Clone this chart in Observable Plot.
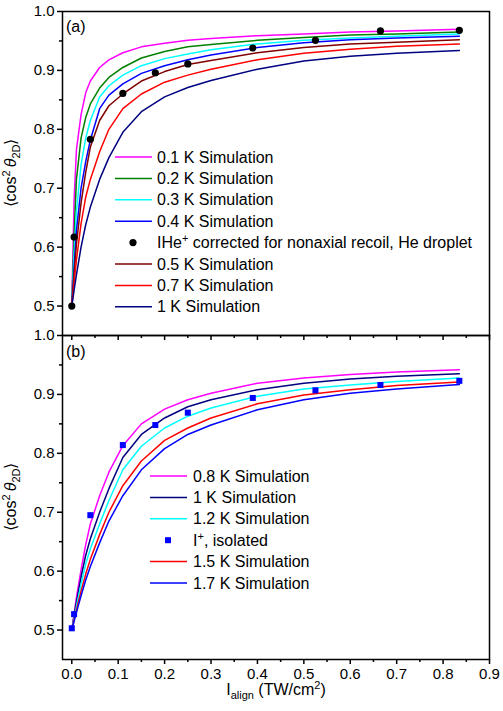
<!DOCTYPE html>
<html><head><meta charset="utf-8">
<script src="https://cdn.jsdelivr.net/npm/d3@7"></script>
<script src="https://cdn.jsdelivr.net/npm/@observablehq/plot@0.6"></script>
<style>
body{margin:0;background:#fff;}
svg{display:block}
#panelB{margin-top:-16px;}
</style></head><body><div id="panelA"></div><div id="panelB"></div>
<script>
// ---- data ----
const xGrid = [0, 0.005, 0.01, 0.02, 0.03, 0.04, 0.06, 0.08, 0.11, 0.15, 0.2, 0.25, 0.3, 0.4, 0.5, 0.6, 0.7, 0.835];
// panel (a) simulations
const simA01 = [0.5, 0.68, 0.765, 0.825, 0.862, 0.882, 0.905, 0.918, 0.930, 0.940, 0.946, 0.951, 0.954, 0.959, 0.962, 0.965, 0.967, 0.970];
const simA02 = [0.5, 0.62, 0.715, 0.785, 0.820, 0.843, 0.870, 0.888, 0.905, 0.921, 0.932, 0.940, 0.944, 0.951, 0.956, 0.960, 0.962, 0.965];
const simA03 = [0.5, 0.59, 0.66, 0.74, 0.785, 0.815, 0.855, 0.874, 0.892, 0.908, 0.920, 0.928, 0.935, 0.945, 0.951, 0.955, 0.958, 0.962];
const simA04 = [0.5, 0.565, 0.628, 0.70, 0.745, 0.782, 0.835, 0.858, 0.877, 0.895, 0.908, 0.918, 0.926, 0.939, 0.947, 0.952, 0.955, 0.958];
const simA05 = [0.5, 0.555, 0.605, 0.675, 0.727, 0.770, 0.815, 0.840, 0.860, 0.882, 0.898, 0.910, 0.917, 0.930, 0.939, 0.945, 0.948, 0.952];
const simA07 = [0.5, 0.54, 0.578, 0.640, 0.685, 0.715, 0.762, 0.800, 0.835, 0.860, 0.880, 0.892, 0.902, 0.918, 0.929, 0.936, 0.941, 0.945];
const simA10 = [0.5, 0.527, 0.553, 0.600, 0.638, 0.668, 0.715, 0.752, 0.795, 0.830, 0.855, 0.871, 0.883, 0.902, 0.916, 0.924, 0.929, 0.934];
// panel (b) simulations
const simB08 = [0.5, 0.528, 0.555, 0.602, 0.645, 0.68, 0.728, 0.768, 0.813, 0.850, 0.875, 0.891, 0.902, 0.919, 0.928, 0.934, 0.938, 0.942];
const simB10 = [0.5, 0.525, 0.548, 0.59, 0.627, 0.655, 0.70, 0.74, 0.793, 0.832, 0.860, 0.879, 0.891, 0.908, 0.919, 0.926, 0.931, 0.935];
const simB12 = [0.5, 0.52, 0.54, 0.578, 0.612, 0.638, 0.68, 0.72, 0.772, 0.812, 0.843, 0.863, 0.877, 0.897, 0.909, 0.916, 0.922, 0.928];
const simB15 = [0.5, 0.517, 0.534, 0.566, 0.595, 0.620, 0.662, 0.700, 0.745, 0.787, 0.822, 0.843, 0.860, 0.884, 0.899, 0.908, 0.915, 0.921];
const simB17 = [0.5, 0.515, 0.53, 0.558, 0.585, 0.608, 0.648, 0.685, 0.728, 0.772, 0.808, 0.832, 0.848, 0.874, 0.891, 0.902, 0.909, 0.917];
// measured points
const measX = [0, 0.005, 0.04, 0.11, 0.18, 0.25, 0.39, 0.525, 0.665, 0.835];
const iheY = [0.5, 0.617, 0.783, 0.861, 0.896, 0.911, 0.938, 0.951, 0.967, 0.968];
const iIsoY = [0.503, 0.527, 0.695, 0.814, 0.848, 0.869, 0.894, 0.907, 0.916, 0.923];
// ticks
const xMajor = [0, 0.1, 0.2, 0.3, 0.4, 0.5, 0.6, 0.7, 0.8, 0.9];
const xMinor = [0.05, 0.15, 0.25, 0.35, 0.45, 0.55, 0.65, 0.75, 0.85];
const yMajor = [0.5, 0.6, 0.7, 0.8, 0.9, 1.0];
const yMinor = [0.55, 0.65, 0.75, 0.85, 0.95];

const FONT = "Liberation Sans, Arial, Helvetica, sans-serif";
const seriesA = [
  {label: "0.1 K Simulation", color: "#ff00ff", values: simA01},
  {label: "0.2 K Simulation", color: "#008000", values: simA02},
  {label: "0.3 K Simulation", color: "#00ffff", values: simA03},
  {label: "0.4 K Simulation", color: "#0000ff", values: simA04},
  {label: "0.5 K Simulation", color: "#800000", values: simA05},
  {label: "0.7 K Simulation", color: "#ff0000", values: simA07},
  {label: "1 K Simulation", color: "#000080", values: simA10}
];
const seriesB = [
  {label: "0.8 K Simulation", color: "#ff00ff", values: simB08},
  {label: "1 K Simulation", color: "#000080", values: simB10},
  {label: "1.2 K Simulation", color: "#00ffff", values: simB12},
  {label: "1.5 K Simulation", color: "#ff0000", values: simB15},
  {label: "1.7 K Simulation", color: "#0000ff", values: simB17}
];

function panel({series, points, symbol, pointColor, r, height, marginTop, marginBottom, xLabels}) {
  const fmt = d3.format(".1f");
  return Plot.plot({
    width: 503, height, marginLeft: 62, marginRight: 14, marginTop, marginBottom,
    x: {domain: [-0.02, 0.9]},
    y: {domain: [0.45, 1.0]},
    style: {fontFamily: FONT, fontSize: "15px", color: "black", background: "transparent", overflow: "visible"},
    marks: [
      ...series.map(s => Plot.line(xGrid.map((x, i) => ({x, y: s.values[i]})), {x: "x", y: "y", stroke: s.color, strokeWidth: 1.5})),
      Plot.dot(measX.map((x, i) => ({x, y: points[i]})), {x: "x", y: "y", fill: pointColor, symbol, r}),
      Plot.axisY({ticks: yMajor, tickSize: 5, tickPadding: 3, tickFormat: fmt, fontSize: 15, strokeWidth: 1.5, label: null}),
      Plot.axisY({ticks: yMinor, tickSize: 3, tickFormat: () => "", strokeWidth: 1.5, label: null}),
      Plot.axisX({ticks: xMajor, tickSize: 5, tickPadding: 4, tickFormat: xLabels ? fmt : () => "", fontSize: 15, strokeWidth: 1.5, label: null}),
      Plot.axisX({ticks: xMinor, tickSize: 3, tickFormat: () => "", strokeWidth: 1.5, label: null}),
      Plot.frame({stroke: "black", strokeWidth: 1.5})
    ]
  });
}

function legend(svg, entries, {lx0, lx1, mx, tx, y0, dy}) {
  const g = d3.select(svg).append("g").attr("font-family", FONT).attr("font-size", 16)
    .attr("fill", "black").attr("text-anchor", "start");
  entries.forEach((e, i) => {
    const y = y0 + i * dy;
    if (e.kind === "line") {
      g.append("line").attr("x1", lx0).attr("x2", lx1).attr("y1", y).attr("y2", y).attr("stroke", e.color).attr("stroke-width", 1.5);
    } else if (e.kind === "circle") {
      g.append("circle").attr("cx", mx).attr("cy", y).attr("r", 3.6).attr("fill", e.color);
    } else {
      g.append("rect").attr("x", mx - 3).attr("y", y - 3).attr("width", 6).attr("height", 6).attr("fill", e.color);
    }
    const t = g.append("text").attr("x", tx).attr("y", y + 5.6).attr("text-anchor", "start");
    e.parts.forEach(p => {
      const ts = t.append("tspan").text(p.t);
      if (p.sup) ts.attr("font-size", 11).attr("dy", -6);
      if (p.after) ts.attr("dy", 6);
    });
  });
}

function yLabel(svg, cy) {
  const t = d3.select(svg).append("text").attr("font-family", FONT).attr("font-size", 16)
    .attr("text-anchor", "middle").attr("transform", `translate(16,${cy}) rotate(-90)`);
  t.append("tspan").text("\u27E8cos");
  t.append("tspan").text("2").attr("font-size", 11).attr("dy", -6);
  t.append("tspan").text("\u2009").attr("dy", 6);
  t.append("tspan").text("\u03B8").attr("font-style", "italic");
  t.append("tspan").text("2D").attr("font-size", 11).attr("dy", 4);
  t.append("tspan").text("\u27E9").attr("dy", -4);
}

function panelTag(svg, s) {
  d3.select(svg).append("text").attr("x", 66).attr("y", 31.5).attr("font-family", FONT)
    .attr("font-size", 16).attr("text-anchor", "start").text(s);
}

// Panel (a)
const svgA = panel({series: seriesA, points: iheY, symbol: "circle", pointColor: "black", r: 3.6,
  height: 341, marginTop: 11, marginBottom: 6, xLabels: false});
document.getElementById("panelA").appendChild(svgA);
const legA = [
  ...seriesA.slice(0, 4).map(s => ({kind: "line", color: s.color, parts: [{t: s.label}]})),
  {kind: "circle", color: "black", parts: [{t: "IHe"}, {t: "+", sup: true}, {t: " corrected for nonaxial recoil, He droplet", after: true}]},
  ...seriesA.slice(4).map(s => ({kind: "line", color: s.color, parts: [{t: s.label}]}))
];
legend(svgA, legA, {lx0: 115, lx1: 152, mx: 133, tx: 157, y0: 157, dy: 21.4});
panelTag(svgA, "(a)");
yLabel(svgA, 173);

// Panel (b)
const svgB = panel({series: seriesB, points: iIsoY, symbol: "square", pointColor: "#0000ff", r: 3.4,
  height: 386, marginTop: 10, marginBottom: 52, xLabels: true});
document.getElementById("panelB").appendChild(svgB);
const legB = [
  ...seriesB.slice(0, 3).map(s => ({kind: "line", color: s.color, parts: [{t: s.label}]})),
  {kind: "square", color: "#0000ff", parts: [{t: "I"}, {t: "+", sup: true}, {t: ", isolated", after: true}]},
  ...seriesB.slice(3).map(s => ({kind: "line", color: s.color, parts: [{t: s.label}]}))
];
legend(svgB, legB, {lx0: 150, lx1: 187, mx: 168, tx: 193, y0: 151, dy: 21.4});
panelTag(svgB, "(b)");
yLabel(svgB, 172);
// x label
const xl = d3.select(svgB).append("text").attr("font-family", FONT).attr("font-size", 16)
  .attr("text-anchor", "middle").attr("x", 276).attr("y", 370);
xl.append("tspan").text("I");
xl.append("tspan").text("align").attr("font-size", 11).attr("dy", 4);
xl.append("tspan").text(" (TW/cm").attr("dy", -4);
xl.append("tspan").text("2").attr("font-size", 11).attr("dy", -6);
xl.append("tspan").text(")").attr("dy", 6);
</script></body></html>
